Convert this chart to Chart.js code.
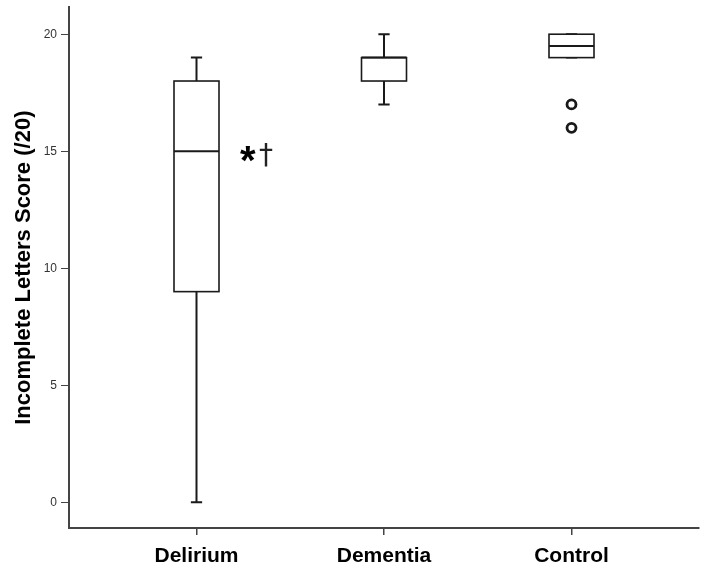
<!DOCTYPE html>
<html>
<head>
<meta charset="utf-8">
<script src="https://cdn.jsdelivr.net/npm/chart.js@4.4.1/dist/chart.umd.min.js"></script>
<style>
  html, body { margin: 0; padding: 0; background: #fff; }
  #wrap { width: 707px; height: 573px; }
</style>
</head>
<body>
<div id="wrap"><canvas id="chart" width="707" height="573"></canvas></div>
<script>
  // groups and their five-number summaries
  const groups = ['Delirium', 'Dementia', 'Control'];
  const whiskerLow = [0, 17, 19];
  const q1 = [9, 18, 19];
  const median = [15, 19, 19.5];
  const q3 = [18, 19, 20];
  const whiskerHigh = [19, 20, 20];
  const outliers = [
    { group: 3, value: 17 },
    { group: 3, value: 16 },
  ];
  const yTicks = [0, 5, 10, 15, 20];
  const yTitle = 'Incomplete Letters Score (/20)';
  const noteGroup = 1;
  const noteValue = 15;

  const INK = '#1a1a1a';
  const AXIS = '#444';
  const BOX_HALF = 0.12;
  const CAP_HALF = 0.03;
  const FONT = '"Liberation Sans", Arial, sans-serif';

  function noPadding(scale) {
    scale.paddingTop = 0;
    scale.paddingBottom = 0;
    scale.paddingLeft = 0;
    scale.paddingRight = 0;
  }

  const boxPlugin = {
    id: 'boxes',
    afterDatasetsDraw(chart) {
      const { ctx, scales: { x, y } } = chart;
      ctx.save();
      ctx.strokeStyle = INK;
      groups.forEach((g, i) => {
        const pos = i + 1;
        const xl = x.getPixelForValue(pos - BOX_HALF);
        const xr = x.getPixelForValue(pos + BOX_HALF);
        const xc = x.getPixelForValue(pos);
        const cl = x.getPixelForValue(pos - CAP_HALF);
        const cr = x.getPixelForValue(pos + CAP_HALF);
        const yq1 = y.getPixelForValue(q1[i]);
        const yq3 = y.getPixelForValue(q3[i]);
        const ylo = y.getPixelForValue(whiskerLow[i]);
        const yhi = y.getPixelForValue(whiskerHigh[i]);

        // whiskers
        ctx.lineWidth = 2;
        ctx.beginPath();
        ctx.moveTo(xc, ylo);
        ctx.lineTo(xc, yq1);
        ctx.moveTo(xc, yq3);
        ctx.lineTo(xc, yhi);
        ctx.moveTo(cl, ylo);
        ctx.lineTo(cr, ylo);
        ctx.moveTo(cl, yhi);
        ctx.lineTo(cr, yhi);
        ctx.stroke();

        // box
        ctx.fillStyle = '#fff';
        ctx.fillRect(xl, yq3, xr - xl, yq1 - yq3);
        ctx.lineWidth = 1.6;
        ctx.strokeRect(xl, yq3, xr - xl, yq1 - yq3);

        // median
        ctx.lineWidth = 2;
        ctx.beginPath();
        ctx.moveTo(xl, y.getPixelForValue(median[i]));
        ctx.lineTo(xr, y.getPixelForValue(median[i]));
        ctx.stroke();
      });

      // significance marks beside the delirium box
      const nx = x.getPixelForValue(noteGroup + BOX_HALF) + 21;
      const ny = y.getPixelForValue(noteValue);
      ctx.fillStyle = '#000';
      ctx.textBaseline = 'alphabetic';
      ctx.font = 'bold 40px ' + FONT;
      ctx.fillText('*', nx, ny + 23);
      ctx.fillStyle = '#222';
      ctx.font = '28px "DejaVu Sans", sans-serif';
      ctx.fillText('\u2020', nx + 19, ny + 13);
      ctx.restore();
    },
  };

  new Chart(document.getElementById('chart'), {
    type: 'scatter',
    data: {
      datasets: [{
        data: outliers.map((o) => ({ x: o.group, y: o.value })),
        pointRadius: 4.5,
        pointBorderWidth: 2.8,
        pointBorderColor: INK,
        pointBackgroundColor: '#fff',
      }],
    },
    options: {
      responsive: false,
      animation: false,
      layout: { padding: { top: 5, right: 8, left: 0, bottom: 0 } },
      plugins: { legend: { display: false }, tooltip: { enabled: false } },
      scales: {
        x: {
          type: 'linear',
          min: 0.32,
          max: 3.68,
          afterBuildTicks: (scale) => { scale.ticks = groups.map((g, i) => ({ value: i + 1 })); },
          afterFit: (scale) => { scale.height = 45; noPadding(scale); },
          ticks: {
            callback: (v) => groups[v - 1] || '',
            color: '#000',
            font: { family: FONT, size: 21, weight: 'bold' },
            padding: 9,
            maxRotation: 0,
          },
          grid: { drawOnChartArea: false, drawTicks: true, tickLength: 7, color: AXIS, lineWidth: 1.5 },
          border: { color: AXIS, width: 2 },
        },
        y: {
          min: -1.1,
          max: 21.15,
          afterBuildTicks: (scale) => { scale.ticks = yTicks.map((v) => ({ value: v })); },
          afterFit: (scale) => { scale.width = 69; noPadding(scale); },
          ticks: {
            color: '#333',
            font: { family: FONT, size: 12 },
            padding: 4,
          },
          title: {
            display: true,
            text: yTitle,
            color: '#000',
            font: { family: FONT, size: 22, weight: 'bold' },
            padding: { top: 11, bottom: 4 },
          },
          grid: { drawOnChartArea: false, drawTicks: true, tickLength: 8, color: AXIS, lineWidth: 1 },
          border: { color: AXIS, width: 2 },
        },
      },
    },
    plugins: [boxPlugin],
  });
</script>
</body>
</html>
